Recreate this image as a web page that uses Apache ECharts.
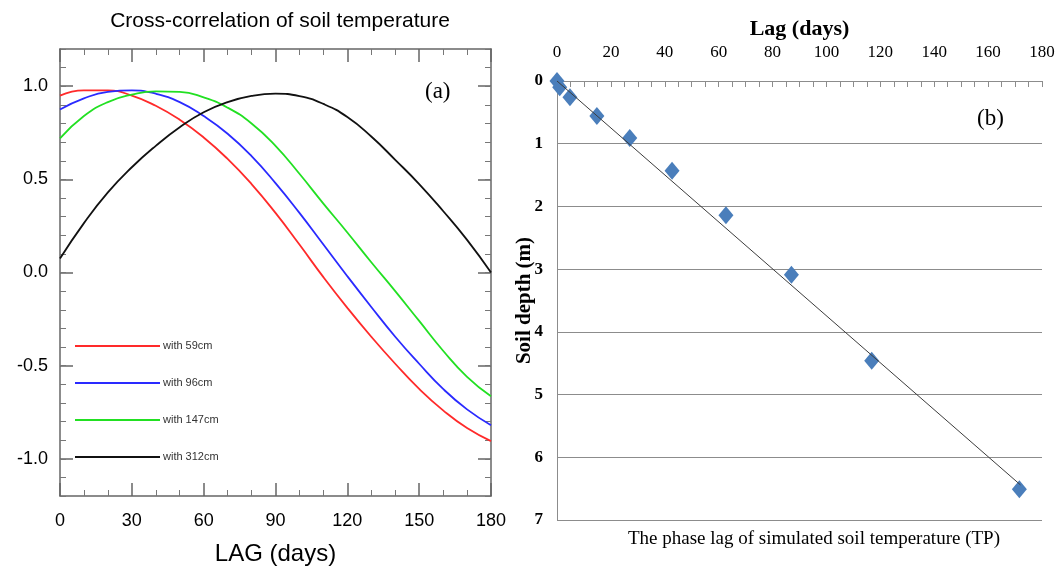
<!DOCTYPE html>
<html>
<head>
<meta charset="utf-8">
<title>Soil temperature lag</title>
<script src="https://cdn.jsdelivr.net/npm/echarts@6/dist/echarts.min.js"></script>
<style>
  html, body { margin: 0; padding: 0; background: #fff; }
  #chart { width: 1056px; height: 566px; }
</style>
</head>
<body>
<div id="chart"></div>
<script>
// (a) cross-correlation, read every 10 days
const lags = [0, 10, 20, 30, 40, 50, 60, 70, 80, 90, 100, 110, 120, 130, 140, 150, 160, 170, 180]
const corr59 = [0.95, 0.978, 0.978, 0.95, 0.895, 0.82, 0.725, 0.61, 0.475, 0.32, 0.15, -0.025, -0.19, -0.345, -0.49, -0.625, -0.74, -0.835, -0.905]
const corr96 = [0.875, 0.935, 0.97, 0.978, 0.96, 0.915, 0.84, 0.745, 0.625, 0.48, 0.32, 0.15, -0.02, -0.185, -0.345, -0.49, -0.625, -0.735, -0.82]
const corr147 = [0.72, 0.84, 0.915, 0.955, 0.973, 0.97, 0.94, 0.885, 0.80, 0.68, 0.53, 0.37, 0.215, 0.055, -0.10, -0.26, -0.42, -0.56, -0.665]
const corr312 = [0.075, 0.265, 0.43, 0.565, 0.68, 0.78, 0.86, 0.915, 0.948, 0.96, 0.947, 0.905, 0.835, 0.73, 0.605, 0.475, 0.33, 0.175, 0.0]
const seriesNames = ['with 59cm', 'with 96cm', 'with 147cm', 'with 312cm']
const yMajor = [-1, -0.5, 0, 0.5, 1]

// (b) phase lag vs depth
const phaseLag = [0, 1, 4.8, 14.8, 27.0, 42.7, 62.7, 87.0, 116.8, 171.6]
const soilDepth = [0, 0.1, 0.26, 0.56, 0.91, 1.43, 2.14, 3.09, 4.46, 6.51]
const fitLag = [0, 172]
const fitDepth = [0, 6.44]

const SANS = 'Liberation Sans, Arial, sans-serif'
const SERIF = 'Liberation Serif, Times New Roman, serif'

function pairs(xs, ys) {
  return xs.map((x, i) => [x, ys[i]])
}

function buildOption() {
  const frame = { show: true, onZero: false, lineStyle: { color: '#666', width: 1.5 } }
  const majorTick = { show: true, inside: true, length: 13, lineStyle: { color: '#666', width: 1.5 } }
  const gray = '#8c8c8c'
  const plotW = 431

  // short 0.1 ticks: an axis put on the opposite side and shifted onto the frame,
  // so its outward ticks point into the plot
  function minorY(position) {
    return {
      gridIndex: 0, type: 'value', position: position, offset: -plotW,
      min: -1.2, max: 1.2, interval: 0.1,
      axisLine: { show: false, onZero: false },
      axisTick: { show: true, inside: false, length: 6, lineStyle: { color: '#777', width: 1 } },
      splitLine: { show: false }, axisLabel: { show: false }
    }
  }

  const corrs = [corr59, corr96, corr147, corr312]
  const colors = ['#ff2a2a', '#2a2aff', '#22e022', '#111111']

  return {
    animation: false,
    title: {
      text: 'Cross-correlation of soil temperature',
      left: 275, top: 6, textAlign: 'center',
      textStyle: { fontFamily: SANS, fontWeight: 'normal', fontSize: 21, color: '#000' }
    },
    legend: {
      data: seriesNames,
      orient: 'vertical',
      left: 75, top: 339,
      padding: 0,
      itemGap: 23,
      itemWidth: 85, itemHeight: 2,
      icon: 'rect',
      textStyle: { fontFamily: SANS, fontSize: 11, color: '#333', lineHeight: 14, padding: [0, 0, 0, -2] }
    },
    grid: [
      { left: 60, top: 49, width: plotW, height: 447, outerBoundsMode: 'none' },
      { left: 557, top: 81, width: 485, height: 439, outerBoundsMode: 'none' }
    ],
    xAxis: [
      {
        gridIndex: 0, type: 'value', position: 'bottom', min: 0, max: 180, interval: 30,
        axisLine: frame, axisTick: majorTick,
        minorTick: { show: true, splitNumber: 3, length: 6, lineStyle: { color: '#777' } },
        splitLine: { show: false },
        axisLabel: { fontFamily: SANS, fontSize: 18, color: '#000', margin: 16 },
        name: 'LAG (days)', nameLocation: 'middle', nameGap: 46, nameMoveOverlap: false,
        nameTextStyle: { fontFamily: SANS, fontSize: 24, color: '#000' }
      },
      {
        gridIndex: 0, type: 'value', position: 'top', min: 0, max: 180, interval: 30,
        axisLine: frame, axisTick: majorTick,
        minorTick: { show: true, splitNumber: 3, length: 6, lineStyle: { color: '#777' } },
        splitLine: { show: false }, axisLabel: { show: false }
      },
      {
        gridIndex: 1, type: 'value', position: 'top', min: 0, max: 180, interval: 20,
        axisLine: { show: true, onZero: false, lineStyle: { color: gray, width: 1 } },
        axisTick: { show: true, inside: true, length: 6, lineStyle: { color: gray } },
        minorTick: { show: true, splitNumber: 4, length: 6, lineStyle: { color: gray } },
        splitLine: { show: false },
        axisLabel: { fontFamily: SERIF, fontSize: 17, color: '#000', margin: 20 },
        name: 'Lag (days)', nameLocation: 'middle', nameGap: 41, nameMoveOverlap: false,
        nameTextStyle: { fontFamily: SERIF, fontSize: 22, fontWeight: 'bold', color: '#000' }
      }
    ],
    yAxis: [
      {
        gridIndex: 0, type: 'value', position: 'left', min: -1.2, max: 1.2, interval: 0.1,
        axisLine: frame,
        axisTick: Object.assign({ customValues: yMajor }, majorTick),
        splitLine: { show: false },
        axisLabel: {
          customValues: yMajor, fontFamily: SANS, fontSize: 18, color: '#000', margin: 12,
          formatter: (v) => v.toFixed(1)
        }
      },
      minorY('right'),
      {
        gridIndex: 0, type: 'value', position: 'right', min: -1.2, max: 1.2, interval: 0.1,
        axisLine: frame,
        axisTick: Object.assign({ customValues: yMajor }, majorTick),
        splitLine: { show: false }, axisLabel: { show: false }
      },
      minorY('left'),
      {
        gridIndex: 1, type: 'value', position: 'left', inverse: true, min: 0, max: 7, interval: 1,
        axisLine: { show: true, onZero: false, lineStyle: { color: gray, width: 1 } },
        axisTick: { show: false },
        splitLine: { show: true, lineStyle: { color: gray, width: 1 } },
        axisLabel: { fontFamily: SERIF, fontSize: 17, fontWeight: 'bold', color: '#000', margin: 14 },
        name: 'Soil depth (m)', nameLocation: 'middle', nameGap: 22, nameRotate: 90, nameMoveOverlap: false,
        nameTextStyle: { fontFamily: SERIF, fontSize: 21, fontWeight: 'bold', color: '#000' }
      }
    ],
    graphic: [
      {
        type: 'text', left: 425, top: 80,
        style: { text: '(a)', fontFamily: SERIF, fontSize: 23, fill: '#000' }
      },
      {
        type: 'text', left: 977, top: 107,
        style: { text: '(b)', fontFamily: SERIF, fontSize: 23, fill: '#000' }
      },
      {
        type: 'text', left: 628, top: 530,
        style: { text: 'The phase lag of simulated soil temperature (TP)', fontFamily: SERIF, fontSize: 19, fill: '#000' }
      }
    ],
    series: [
      ...corrs.map((c, i) => ({
        name: seriesNames[i],
        type: 'line',
        xAxisIndex: 0, yAxisIndex: 0,
        data: pairs(lags, c),
        smooth: 0.5,
        symbol: 'none',
        color: colors[i],
        lineStyle: { color: colors[i], width: 1.8 }
      })),
      {
        name: 'phase lag',
        type: 'scatter',
        xAxisIndex: 2, yAxisIndex: 4,
        data: pairs(phaseLag, soilDepth),
        symbol: 'diamond',
        symbolSize: [15, 18],
        itemStyle: { color: '#4a7ebb', opacity: 1 }
      },
      {
        name: 'fit',
        type: 'line',
        xAxisIndex: 2, yAxisIndex: 4,
        data: pairs(fitLag, fitDepth),
        symbol: 'none',
        lineStyle: { color: '#3c3c3c', width: 1 }
      }
    ]
  }
}

const chart = echarts.init(document.getElementById('chart'))
chart.setOption(buildOption())
window.addEventListener('resize', () => chart.resize())
</script>
</body>
</html>
